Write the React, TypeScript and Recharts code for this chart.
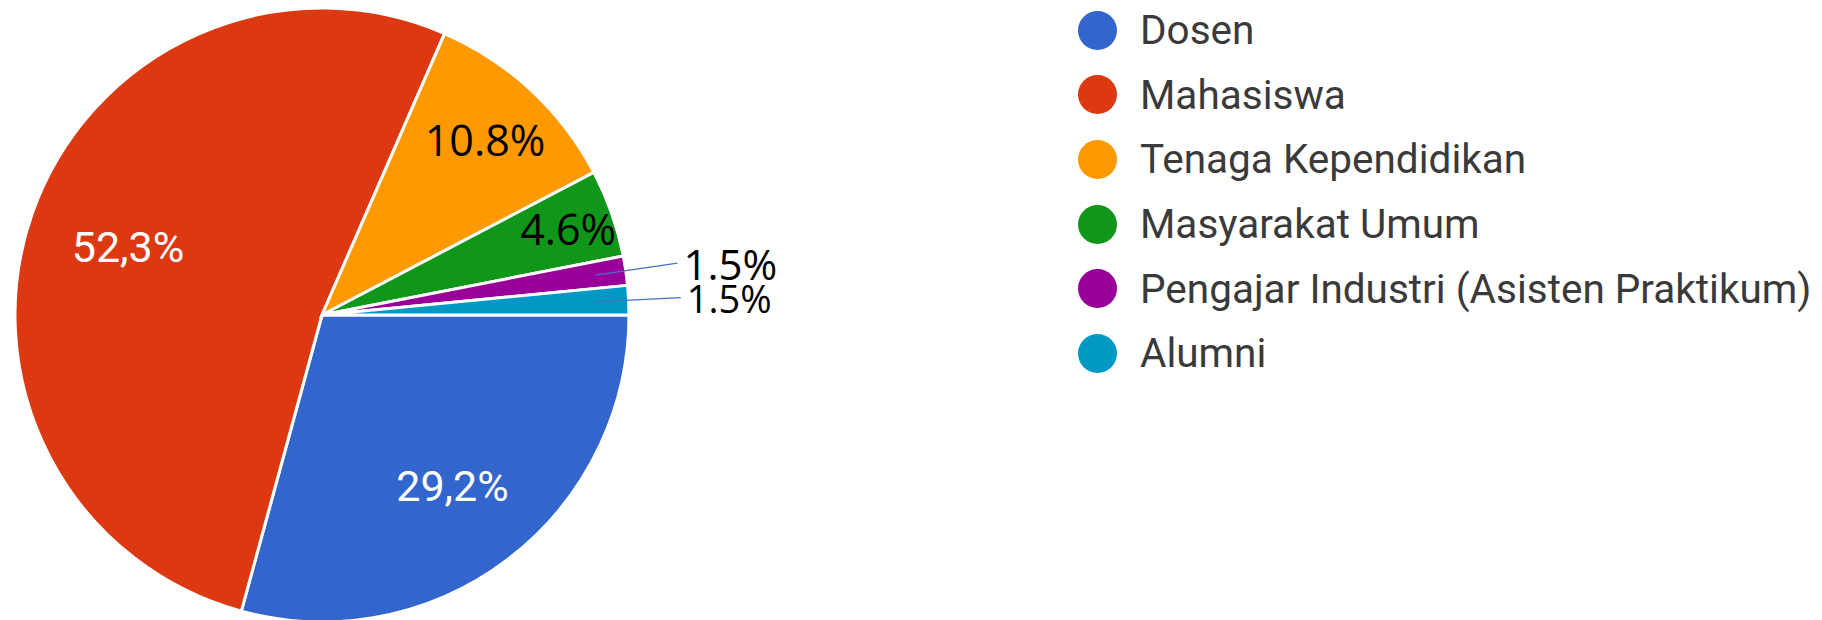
import { PieChart, Pie, Cell } from 'recharts'

const categories = [
  'Dosen',
  'Mahasiswa',
  'Tenaga Kependidikan',
  'Masyarakat Umum',
  'Pengajar Industri (Asisten Praktikum)',
  'Alumni',
]
const respondents = [19, 34, 7, 3, 1, 1]
const sliceLabels = ['29,2%', '52,3%', '10.8%', '4.6%', '1.5%', '1.5%']
const colors = ['#3366cc', '#dc3912', '#ff9900', '#109618', '#990099', '#0099c6']

const data = categories.map((name, i) => ({ name, value: respondents[i], fill: colors[i] }))

const RAD = Math.PI / 180

// how far out each label sits (fraction of radius); small slices get a leader line
const labelRadius = [0.7, 0.67, 0.78, 0.85, 0.9, 0.89]
const labelSize = [43, 43, 43, 43, 42, 38]
const hasLeader = [false, false, false, false, true, true]

// eslint-disable-next-line @typescript-eslint/no-explicit-any
function SliceLabel({ cx, cy, midAngle, outerRadius, index }: any) {
  const cos = Math.cos(-midAngle * RAD)
  const sin = Math.sin(-midAngle * RAD)
  const r = outerRadius * labelRadius[index]
  const x = cx + r * cos
  const y = cy + r * sin
  const google = index < 2
  const font = google
    ? { fill: '#fff', fontFamily: 'Roboto, Arial, sans-serif', fontSize: labelSize[index] }
    : { fill: '#000', fontFamily: '"Open Sans", sans-serif', fontSize: labelSize[index] }

  if (hasLeader[index]) {
    const ex = cx + outerRadius * 1.17 * cos
    const ey = cy + outerRadius * 1.17 * sin
    return (
      <g>
        <line x1={x} y1={y} x2={ex} y2={ey} stroke="#4472c4" strokeWidth={1.3} />
        <text x={ex + 6} y={ey} dominantBaseline="central" textAnchor="start" {...font}>
          {sliceLabels[index]}
        </text>
      </g>
    )
  }
  return (
    <text x={x} y={y} dominantBaseline="central" textAnchor="middle" {...font}>
      {sliceLabels[index]}
    </text>
  )
}

function LegendList() {
  return (
    <div
      style={{
        position: 'absolute',
        left: 1078,
        top: -2,
        fontFamily: 'Roboto, Arial, sans-serif',
        fontSize: 40.5,
        color: '#3a3a3a',
      }}
    >
      {categories.map((name, i) => (
        <div key={name} style={{ display: 'flex', alignItems: 'center', height: 64.6 }}>
          <span
            style={{
              width: 39,
              height: 39,
              borderRadius: '50%',
              background: colors[i],
              marginRight: 23,
              flexShrink: 0,
            }}
          />
          <span style={{ whiteSpace: 'nowrap' }}>{name}</span>
        </div>
      ))}
    </div>
  )
}

export default function App() {
  return (
    <div style={{ position: 'absolute', left: 0, top: 0, width: 1822, height: 620, background: '#fff' }}>
      <PieChart width={1822} height={620} margin={{ top: 0, right: 0, bottom: 0, left: 0 }}>
        <Pie
          data={data}
          dataKey="value"
          nameKey="name"
          cx={322}
          cy={315}
          outerRadius={307}
          startAngle={0}
          endAngle={-360}
          stroke="#fff"
          strokeWidth={3}
          label={SliceLabel}
          labelLine={false}
          isAnimationActive={false}
        >
          {data.map((d) => (
            <Cell key={d.name} fill={d.fill} />
          ))}
        </Pie>
      </PieChart>
      <LegendList />
    </div>
  )
}
